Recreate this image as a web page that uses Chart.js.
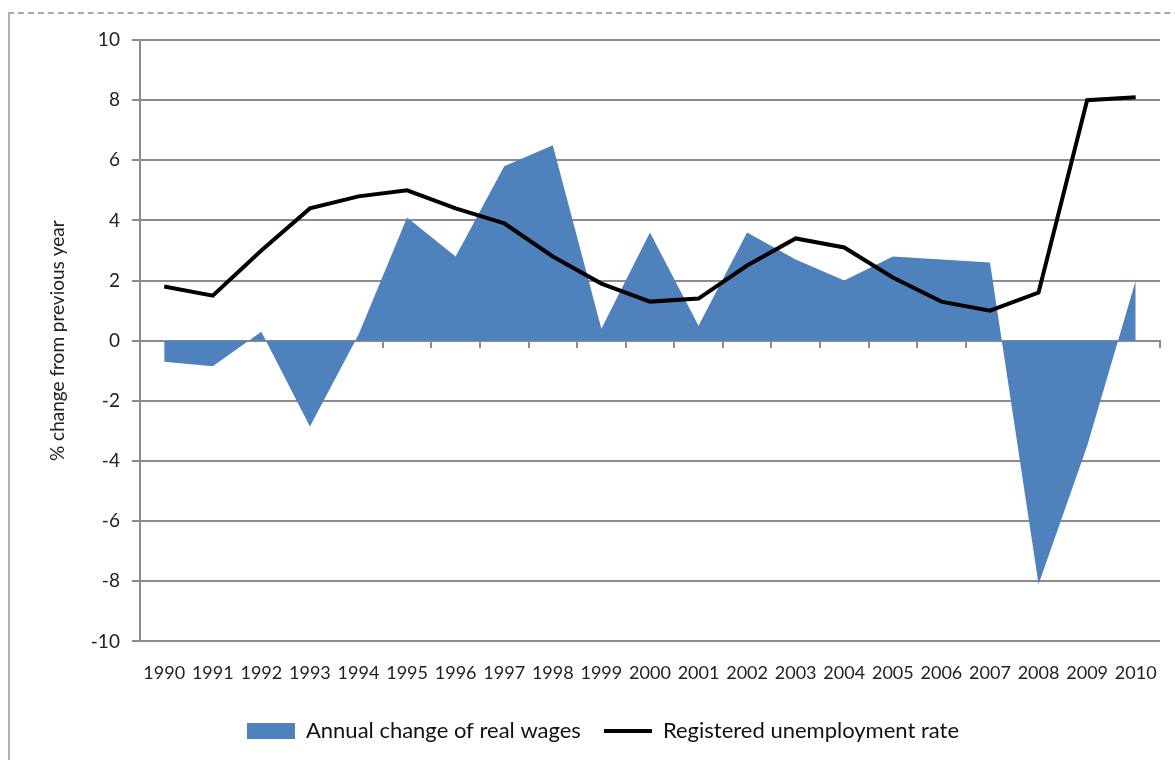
<!DOCTYPE html>
<html>
<head>
<meta charset="utf-8">
<script src="https://cdn.jsdelivr.net/npm/chart.js@4"></script>
<style>
  html, body { margin: 0; padding: 0; background: #fff; overflow: hidden; }
  #frame {
    position: absolute; left: 8px; top: 12px; width: 1300px; height: 900px;
    border-top: 2px dashed #a8a8a8; border-left: 2px solid #b0b0b0;
  }
  #wrap { position: absolute; left: 0; top: 0; width: 1175px; height: 760px; }
</style>
</head>
<body>
<div id="frame"></div>
<div id="wrap"><canvas id="chartCanvas" width="1175" height="760"></canvas></div>
<script>
// chart data
const years = ['1990', '1991', '1992', '1993', '1994', '1995', '1996', '1997', '1998', '1999', '2000',
               '2001', '2002', '2003', '2004', '2005', '2006', '2007', '2008', '2009', '2010'];
const realWages = [-0.7, -0.85, 0.3, -2.85, 0.2, 4.1, 2.8, 5.8, 6.5, 0.4, 3.6,
                   0.5, 3.6, 2.7, 2.0, 2.8, 2.7, 2.6, -8.1, -3.5, 2.0];
const unemployment = [1.8, 1.5, 3.0, 4.4, 4.8, 5.0, 4.4, 3.9, 2.8, 1.9, 1.3,
                      1.4, 2.5, 3.4, 3.1, 2.1, 1.3, 1.0, 1.6, 8.0, 8.1];
const yTicks = { min: -10, max: 10, step: 2 };

const blue = '#4F81BD';
const axisGrey = '#8c8c8c';
const fontFamily = 'Lato, "Open Sans", sans-serif';

const ctx = document.getElementById('chartCanvas').getContext('2d');

const myChart = new Chart(ctx, {
  type: 'line',
  data: {
    labels: years,
    datasets: [
      {
        label: 'Annual change of real wages',
        data: realWages,
        fill: 'origin',
        backgroundColor: blue,
        borderColor: blue,
        borderWidth: 0,
        pointRadius: 0,
        pointStyle: 'rect',
        tension: 0,
        order: 1
      },
      {
        label: 'Registered unemployment rate',
        data: unemployment,
        fill: false,
        borderColor: '#000',
        backgroundColor: '#000',
        borderWidth: 4,
        pointRadius: 0,
        pointStyle: 'line',
        tension: 0,
        order: 0
      }
    ]
  },
  options: {
    responsive: false,
    animation: false,
    layout: { padding: { left: 46, right: 15, top: 40, bottom: 8 } },
    plugins: {
      tooltip: { enabled: false },
      legend: {
        position: 'bottom',
        labels: {
          usePointStyle: true,
          pointStyleWidth: 48,
          boxHeight: 16,
          padding: 23,
          color: '#111',
          font: { family: fontFamily, size: 22 },
          sort: (a, b) => a.datasetIndex - b.datasetIndex
        }
      }
    },
    scales: {
      x: {
        type: 'category',
        offset: true,
        grid: { display: false },
        border: { display: false },
        ticks: {
          color: '#222',
          padding: 13,
          maxRotation: 0,
          autoSkip: false,
          font: { family: fontFamily, size: 18 }
        }
      },
      // zero line with tick marks, like the Excel category axis crossing at 0
      xZero: {
        type: 'category',
        position: { y: 0 },
        offset: true,
        z: 1,
        grid: { offset: true, drawOnChartArea: false, drawTicks: true, tickLength: 6, color: axisGrey, lineWidth: 2 },
        border: { display: true, color: axisGrey, width: 2 },
        ticks: { display: false }
      },
      y: {
        min: yTicks.min,
        max: yTicks.max,
        ticks: {
          stepSize: yTicks.step,
          color: '#222',
          padding: 12,
          font: { family: fontFamily, size: 19 }
        },
        grid: { color: axisGrey, lineWidth: 2, tickLength: 8 },
        border: { color: axisGrey, width: 2 },
        title: {
          display: true,
          text: '% change from previous year',
          color: '#222',
          padding: { top: 0, bottom: 10 },
          font: { family: fontFamily, size: 19 }
        }
      }
    }
  }
});
</script>
</body>
</html>
